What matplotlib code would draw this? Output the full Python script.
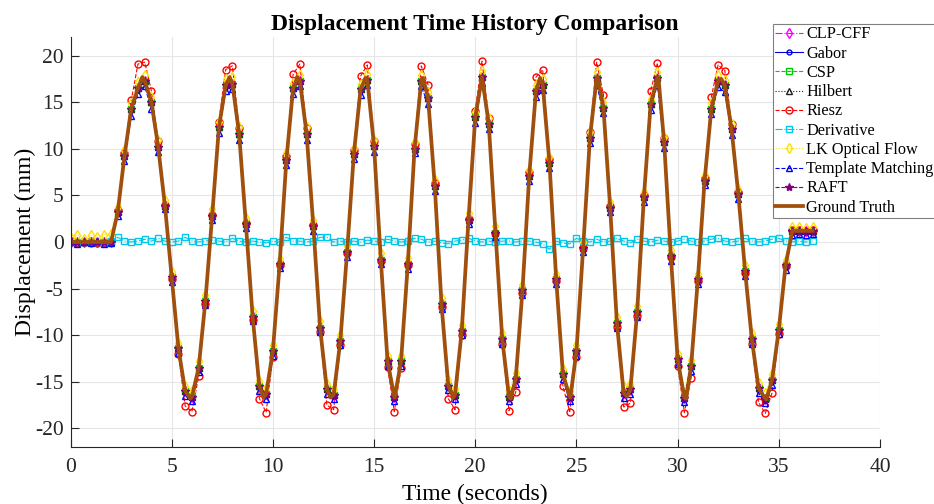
"""
Displacement time history: nine vision methods vs ground truth
"""

import numpy as np
import matplotlib
matplotlib.use('Agg')
import matplotlib.pyplot as plt

plt.rcParams['font.family'] = ['Liberation Serif', 'DejaVu Serif']
plt.rcParams['axes.unicode_minus'] = False

# ---- data (mm), sampled at 3 Hz from t = 0 ----
FS = 3

gt_s = [0.0, 0.0, 0.0, 0.0, 0.0, 0.0, 0.0,
        3.2, 9.2, 14.3, 16.5, 17.3, 15.0, 10.2, 3.9, -3.8, -11.4,
        -16.0, -16.6, -13.5, -6.3, 2.8, 12.3, 16.8, 17.0, 11.6, 1.9,
        -8.0, -15.5, -16.3, -11.7, -2.4, 8.8, 16.5, 17.3, 11.6, 1.7,
        -9.2, -15.8, -16.4, -10.6, -1.1, 9.4, 16.4, 17.4, 10.3, -1.9,
        -12.8, -16.6, -12.8, -2.4, 10.0, 17.3, 15.5, 6.0, -6.7, -15.4,
        -16.4, -9.5, 2.4, 13.4, 17.7, 12.7, 1.0, -10.4, -16.6, -14.7,
        -5.2, 7.1, 16.2, 16.9, 8.5, -4.0, -14.2, -16.6, -11.7, -0.6,
        11.2, 17.6, 14.4, 3.7, -8.7, -16.2, -15.8, -7.5, 4.8, 14.8,
        17.6, 10.7, -1.5, -12.6, -16.7, -13.3, -4.0, 6.6, 14.3, 17.3,
        16.8, 12.1, 5.1, -3.1, -10.4, -15.7, -16.8, -14.8, -9.4, -2.5,
        1.2, 1.2, 1.2, 1.2]

riesz = [0.1, -0.1, 0.0, 0.1, -0.1, 0.0, 0.1,
         3.4, 9.6, 15.2, 19.1, 19.3, 16.2, 10.8, 4.0, -4.0, -12.0,
         -17.6, -18.2, -14.4, -6.6, 2.9, 12.9, 18.5, 18.9, 12.2, 2.0,
         -8.4, -16.8, -18.3, -12.3, -2.5, 9.2, 18.0, 19.1, 12.2, 1.8,
         -9.7, -17.5, -18.0, -11.1, -1.2, 9.9, 17.8, 19.0, 10.8, -2.0,
         -13.4, -18.2, -13.5, -2.5, 10.5, 18.9, 16.9, 6.3, -7.0, -16.8,
         -18.0, -10.0, 2.5, 14.1, 19.4, 13.3, 1.0, -10.9, -18.1, -16.1,
         -5.5, 7.5, 17.7, 18.5, 8.9, -4.2, -15.5, -18.2, -12.3, -0.6,
         11.8, 19.3, 15.8, 3.9, -9.1, -17.7, -17.3, -7.9, 5.0, 16.2,
         19.2, 11.2, -1.6, -13.3, -18.3, -14.6, -4.2, 6.9, 15.6, 19.0,
         18.4, 12.7, 5.4, -3.3, -10.9, -17.2, -18.4, -16.2, -9.9, -2.6,
         1.3, 1.3, 1.2, 1.3]

lk_flow = [0.4, 0.8, 0.3, 0.7, 0.5, 0.8, 0.9,
           3.8, 9.9, 14.9, 17.2, 17.9, 15.6, 10.9, 4.5, -3.2, -10.8,
           -15.4, -16.0, -12.8, -5.7, 3.5, 12.9, 17.5, 17.7, 12.3, 2.6,
           -7.4, -14.9, -15.7, -11.0, -1.8, 9.5, 17.1, 17.9, 12.3, 2.4,
           -8.5, -15.2, -15.8, -10.0, -0.4, 10.1, 17.0, 18.0, 11.0, -1.2,
           -12.2, -16.0, -12.2, -1.7, 10.7, 17.9, 16.1, 6.7, -6.0, -14.8,
           -15.8, -8.9, 3.1, 14.0, 18.3, 13.3, 1.7, -9.8, -16.0, -14.1,
           -4.6, 7.7, 16.8, 17.5, 9.1, -3.4, -13.6, -16.0, -11.1, 0.0,
           11.8, 18.2, 15.0, 4.3, -8.1, -15.6, -15.2, -6.9, 5.4, 15.4,
           18.2, 11.3, -0.9, -12.0, -16.1, -12.7, -3.4, 7.2, 14.9, 17.9,
           17.4, 12.7, 5.7, -2.5, -9.8, -15.1, -16.2, -14.2, -8.8, -1.9,
           1.6, 1.6, 1.5, 1.6]

template = [0.1, -0.2, 0.0, -0.1, 0.1, -0.2, -0.1,
            2.8, 8.7, 13.5, 15.9, 16.7, 14.3, 9.7, 3.5, -4.3, -11.9,
            -16.5, -17.1, -14.0, -6.8, 2.4, 11.7, 16.2, 16.4, 10.9, 1.5,
            -8.5, -16.0, -16.8, -12.2, -2.8, 8.3, 15.9, 16.7, 11.0, 1.2,
            -9.7, -16.3, -16.9, -11.1, -1.6, 8.9, 15.8, 16.8, 9.7, -2.4,
            -13.3, -17.1, -13.3, -2.9, 9.5, 16.7, 14.8, 5.5, -7.2, -15.9,
            -16.9, -10.0, 1.9, 12.8, 17.1, 12.1, 0.5, -10.9, -17.1, -15.2,
            -5.7, 6.6, 15.6, 16.3, 7.9, -4.5, -14.7, -17.1, -12.2, -1.1,
            10.6, 16.9, 13.8, 3.2, -9.2, -16.7, -16.3, -8.0, 4.3, 14.2,
            16.9, 10.1, -2.0, -13.1, -17.2, -13.8, -4.5, 6.1, 13.7, 16.6,
            16.1, 11.5, 4.6, -3.6, -10.9, -16.2, -17.3, -15.3, -9.9, -3.0,
            0.8, 0.9, 0.8, 0.9]

derivative = [0.0, 0.0, 0.0, 0.0, 0.0, 0.0, 0.1,
              0.5, 0.1, 0.0, 0.1, 0.3, 0.1, 0.4, 0.1, 0.0, 0.1,
              0.5, 0.1, 0.0, 0.1, 0.2, 0.1, 0.0, 0.4, 0.1, 0.0,
              0.1, 0.0, -0.1, 0.1, 0.0, 0.5, 0.1, 0.1, 0.0, 0.1,
              0.5, 0.5, 0.0, 0.1, 0.0, 0.1, 0.0, 0.2, 0.1, 0.0,
              0.3, 0.1, 0.0, 0.1, 0.4, 0.3, 0.0, 0.1, -0.1, -0.2,
              0.1, 0.2, 0.4, 0.1, 0.0, 0.1, 0.0, 0.1, 0.1, 0.0,
              0.1, 0.1, 0.0, -0.2, -0.8, 0.1, -0.1, -0.2, 0.4, 0.1,
              0.0, 0.3, 0.0, 0.1, 0.4, 0.1, -0.1, 0.3, 0.1, 0.0,
              0.2, 0.1, 0.0, 0.1, 0.3, 0.1, 0.0, 0.1, 0.3, 0.4,
              0.1, 0.0, 0.1, 0.4, 0.1, 0.0, 0.1, 0.3, 0.4, 0.1,
              0.0, 0.1, 0.0, 0.1]

# ground-truth extremes between samples
peak_t = [3.55, 5.92, 7.86, 9.55, 11.22, 12.85, 14.58, 16.02, 17.42, 18.92,
          21.75, 23.2, 24.7, 26.05, 27.5, 29.05, 30.42, 32.15, 34.38]
peak_y = [17.7, -16.8, 17.7, -16.7, 17.7, -16.7, 17.6, -16.7, 17.6, -16.7,
          -16.8, 17.6, -16.7, 17.7, -16.6, 17.7, -16.8, 17.5, -16.9]

C_GT = '#A0500C'

# (label, values, color, linestyle, marker, markersize)
methods = [
    ('CLP-CFF', gt_s, '#FF00FF', '-.', 'd', 5),
    ('Gabor', gt_s, '#0000E0', '-', 'o', 3.5),
    ('CSP', gt_s, '#00CC00', '--', 's', 4.5),
    ('Hilbert', gt_s, '#222222', ':', '^', 5),
    ('Riesz', riesz, '#FF0000', '--', 'o', 5),
    ('Derivative', derivative, '#00C8E8', '-.', 's', 4.5),
    ('LK Optical Flow', lk_flow, '#FFE000', ':', 'd', 5),
    ('Template Matching', template, '#0000FF', '--', '^', 5),
    ('RAFT', gt_s, '#800080', '--', '*', 6),
]


def main():
    t_s = np.arange(len(gt_s)) / FS
    gt_t = np.concatenate([t_s, peak_t])
    gt_y = np.concatenate([gt_s, peak_y])
    order = np.argsort(gt_t)

    fig = plt.figure(figsize=(9.34, 5.04), dpi=100)
    ax = fig.add_axes([70.5 / 934, 57 / 504, 809.5 / 934, 410 / 504])

    for label, vals, c, ls, mk, ms in methods:
        mfc = c if mk == '*' else 'none'
        ax.plot(t_s, vals, color=c, ls=ls, lw=0.8, marker=mk, ms=ms,
                mfc=mfc, mew=1.0, label=label)

    ax.plot(gt_t[order], gt_y[order], color=C_GT, lw=2.7, label='Ground Truth')

    ax.set_xlim(0, 40)
    ax.set_ylim(-22, 22)
    ax.set_xticks(np.arange(0, 41, 5))
    ax.set_yticks(np.arange(-20, 21, 5))
    ax.grid(True, color='#E6E6E6', lw=0.8)
    ax.set_axisbelow(True)
    for s in ('top', 'right'):
        ax.spines[s].set_visible(False)
    for s in ('left', 'bottom'):
        ax.spines[s].set_color('#262626')
        ax.spines[s].set_linewidth(0.8)
    ax.tick_params(direction='in', length=5.5, width=0.8, colors='#262626',
                   labelsize=15.5, top=False, right=False)
    ax.tick_params(axis='x', pad=8)
    ax.tick_params(axis='y', pad=5)

    ax.set_xlabel('Time (seconds)', fontsize=17, labelpad=5)
    ax.set_ylabel('Displacement (mm)', fontsize=17, labelpad=-1)
    ax.set_title('Displacement Time History Comparison', fontsize=17,
                 fontweight='bold', pad=5)

    leg = ax.legend(loc='upper left', bbox_to_anchor=(773 / 934, 1 - 24 / 504),
                    bbox_transform=fig.transFigure, fontsize=11.7,
                    handlelength=1.7, handletextpad=0.2, labelspacing=0.2,
                    borderpad=0.15, borderaxespad=0, fancybox=False,
                    framealpha=1, edgecolor='#808080')
    leg.get_frame().set_linewidth(0.8)

    fig.savefig('out.png', dpi=100)


if __name__ == '__main__':
    main()
